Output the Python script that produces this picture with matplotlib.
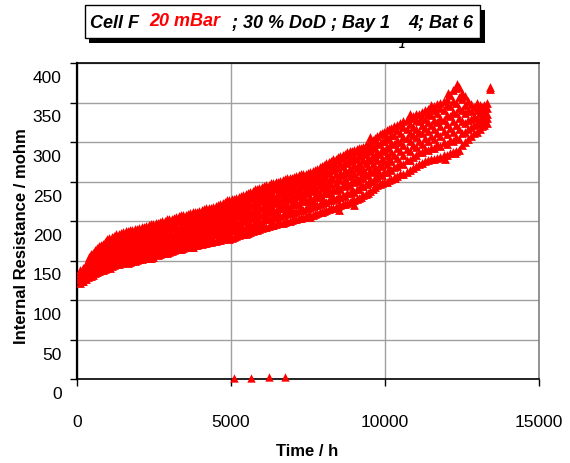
import matplotlib
matplotlib.use('Agg')
import matplotlib.pyplot as plt
import matplotlib.transforms as mtransforms
from matplotlib.patches import Rectangle

plt.rcParams['font.family'] = ['Liberation Sans', 'DejaVu Sans']

# measurement times (h) and the resistance readings (mohm) taken around each time
time_h = [100, 200, 300, 400, 520, 650, 780, 900, 1050, 1200, 1350, 1500, 1650, 1800,
          1950, 2100, 2250, 2400, 2550, 2700, 2850, 3000, 3150, 3300, 3450, 3600, 3750,
          3900, 4050, 4200, 4350, 4500, 4650, 4800, 4950, 5100, 5250, 5400, 5550, 5700,
          5850, 6000, 6150, 6300, 6450, 6600, 6750, 6900, 7050, 7200, 7350, 7500, 7650,
          7800, 7950, 8100, 8250, 8400, 8550, 8700, 8850, 9000, 9150, 9300, 9450, 9600,
          9750, 9900, 10050, 10200, 10400, 10600, 10800, 11000, 11200, 11400, 11600,
          11800, 12000, 12200, 12400, 12600, 12800, 13000, 13150, 13300, 13400]

res_mohm = [
    [122, 126, 131, 134, 138],
    [124, 129, 133, 137, 141],
    [127, 132, 136, 142, 146],
    [130, 135, 141, 146, 151, 155],
    [132, 138, 144, 149, 155, 160],
    [135, 141, 147, 152, 160, 166],
    [138, 143, 150, 157, 163, 170],
    [139, 146, 153, 158, 166, 174],
    [142, 148, 155, 163, 168, 175, 179],
    [144, 151, 157, 163, 171, 177, 181],
    [146, 152, 160, 166, 172, 180, 184],
    [148, 155, 161, 167, 175, 181, 186],
    [147, 154, 162, 170, 176, 183, 187],
    [150, 157, 163, 169, 177, 184, 189],
    [151, 158, 164, 172, 179, 185, 190],
    [152, 159, 167, 173, 180, 186, 192],
    [154, 160, 166, 174, 182, 188, 194],
    [153, 161, 169, 175, 181, 190, 196],
    [159, 163, 170, 178, 184, 191, 197],
    [158, 165, 172, 179, 187, 193, 199],
    [160, 167, 173, 181, 186, 194, 200],
    [161, 168, 176, 182, 189, 197, 203],
    [163, 170, 177, 183, 192, 198, 204],
    [164, 172, 178, 186, 191, 200, 206],
    [166, 173, 181, 187, 194, 201, 207],
    [168, 175, 182, 190, 197, 203, 209],
    [167, 176, 183, 189, 198, 205, 211],
    [170, 177, 185, 191, 199, 206, 212],
    [171, 178, 186, 193, 199, 207, 214],
    [172, 180, 187, 194, 202, 208, 216],
    [174, 181, 188, 196, 203, 210, 217],
    [175, 183, 190, 196, 204, 212, 219],
    [176, 183, 191, 199, 206, 213, 221],
    [178, 186, 192, 200, 208, 215, 224],
    [177, 185, 194, 201, 209, 218, 227],
    [180, 188, 196, 203, 212, 219, 228],
    [182, 190, 197, 206, 213, 222, 230],
    [183, 191, 200, 207, 216, 224, 233],
    [185, 194, 201, 210, 217, 226, 235],
    [187, 195, 204, 211, 220, 229, 238],
    [189, 198, 205, 214, 222, 231, 241],
    [191, 199, 208, 216, 225, 233, 243],
    [193, 202, 209, 218, 227, 236, 245],
    [195, 203, 212, 220, 229, 238, 248],
    [196, 205, 213, 223, 231, 240, 249],
    [198, 206, 216, 224, 234, 242, 251],
    [199, 209, 217, 227, 235, 245, 253],
    [200, 210, 218, 228, 237, 245, 254],
    [202, 211, 221, 229, 239, 247, 256],
    [204, 214, 222, 232, 240, 250, 258],
    [205, 214, 225, 233, 243, 251, 259],
    [207, 217, 225, 236, 244, 254, 261],
    [208, 219, 227, 238, 246, 255, 263],
    [210, 220, 230, 239, 249, 258, 266],
    [212, 223, 231, 242, 251, 262, 269],
    [214, 224, 235, 244, 255, 264, 273],
    [216, 227, 236, 247, 256, 267, 276],
    [218, 228, 239, 248, 259, 268, 279],
    [220, 231, 241, 252, 261, 273, 282],
    [222, 232, 244, 253, 265, 275, 285],
    [224, 236, 245, 257, 267, 279, 288],
    [227, 237, 249, 259, 271, 281, 290],
    [229, 241, 251, 263, 273, 285, 292],
    [233, 244, 255, 265, 277, 287, 294],
    [236, 248, 258, 269, 280, 290, 297],
    [240, 251, 262, 272, 284, 294, 302],
    [245, 256, 265, 277, 287, 299, 308],
    [248, 258, 269, 279, 291, 301, 312],
    [250, 262, 272, 284, 294, 306, 315],
    [253, 264, 276, 287, 299, 309, 318],
    [257, 269, 280, 293, 303, 315, 322],
    [260, 272, 283, 296, 306, 319, 326],
    [264, 277, 288, 301, 311, 323, 330],
    [270, 283, 294, 306, 316, 328, 335],
    [274, 287, 298, 311, 321, 332, 338],
    [277, 290, 301, 314, 325, 336, 342],
    [279, 293, 304, 317, 328, 340, 346],
    [281, 295, 307, 320, 331, 343, 350],
    [284, 298, 310, 323, 334, 347, 355],
    [287, 301, 313, 327, 338, 352, 366],
    [290, 304, 317, 331, 343, 357, 370],
    [300, 313, 324, 337, 347, 358],
    [308, 319, 329, 339, 348],
    [313, 323, 331, 341, 349],
    [320, 327, 333, 339, 344],
    [324, 331, 336, 343, 349],
    [367, 369],
]

# second group of readings, taken between the ones above
time_h_b = [150, 350, 460, 590, 715, 840, 975, 1125, 1275, 1425, 1575, 1725, 1875, 2025,
            2175, 2325, 2475, 2625, 2775, 2925, 3075, 3225, 3375, 3525, 3675, 3825, 3975,
            4125, 4275, 4425, 4575, 4725, 4875, 5025, 5175, 5325, 5475, 5625, 5775, 5925,
            6075, 6225, 6375, 6525, 6675, 6825, 6975, 7125, 7275, 7425, 7575, 7725, 7875,
            8025, 8175, 8325, 8475, 8625, 8775, 8925, 9075, 9225, 9375, 9525, 9675, 9825,
            9975, 10125, 10300, 10500, 10700, 10900, 11100, 11300, 11500, 11700, 11900,
            12100, 12300, 12500, 12700, 12900, 13075, 13225]

res_mohm_b = [
    [124, 129, 135],
    [129, 134, 139, 144, 149],
    [131, 137, 143, 148, 154, 158],
    [134, 140, 146, 151, 157, 163],
    [137, 142, 149, 155, 161, 168],
    [138, 145, 151, 157, 165, 171],
    [141, 147, 153, 160, 167, 173, 177],
    [143, 150, 156, 160, 170, 176, 180],
    [145, 151, 158, 165, 170, 178, 183],
    [147, 153, 160, 167, 173, 181, 185],
    [149, 156, 160, 168, 175, 182, 187],
    [148, 156, 164, 171, 178, 185, 188],
    [150, 157, 165, 171, 177, 186, 190],
    [152, 159, 166, 171, 180, 188, 191],
    [153, 160, 168, 176, 181, 189, 193],
    [153, 162, 169, 174, 183, 190, 195],
    [155, 163, 171, 176, 185, 192, 196],
    [157, 164, 171, 180, 185, 192, 198],
    [159, 166, 174, 180, 188, 195, 200],
    [160, 168, 174, 183, 190, 197, 202],
    [162, 169, 178, 184, 192, 198, 203],
    [164, 171, 179, 185, 194, 201, 205],
    [165, 173, 180, 188, 193, 202, 207],
    [167, 175, 183, 189, 197, 204, 208],
    [168, 176, 184, 192, 199, 205, 210],
    [169, 178, 185, 193, 200, 207, 212],
    [171, 179, 187, 194, 202, 209, 213],
    [172, 180, 188, 196, 203, 211, 215],
    [173, 182, 189, 198, 205, 212, 217],
    [175, 183, 191, 199, 207, 214, 218],
    [176, 185, 193, 200, 208, 216, 220],
    [177, 186, 194, 203, 210, 218, 223],
    [178, 187, 196, 204, 212, 220, 226],
    [179, 189, 197, 206, 214, 222, 228],
    [181, 190, 199, 208, 216, 225, 229],
    [183, 192, 201, 209, 218, 227, 232],
    [184, 193, 203, 211, 220, 229, 234],
    [186, 196, 205, 214, 222, 231, 237],
    [188, 197, 207, 215, 225, 234, 240],
    [190, 200, 209, 218, 227, 236, 242],
    [192, 202, 211, 220, 229, 238, 244],
    [194, 203, 213, 222, 232, 240, 246],
    [195, 205, 215, 225, 233, 243, 248],
    [197, 207, 217, 227, 236, 245, 250],
    [198, 208, 219, 229, 238, 248, 252],
    [200, 210, 220, 230, 240, 249, 254],
    [201, 212, 222, 232, 242, 251, 255],
    [203, 213, 224, 234, 244, 253, 257],
    [204, 215, 226, 236, 246, 255, 259],
    [206, 217, 227, 238, 248, 257, 260],
    [208, 218, 229, 240, 250, 259, 262],
    [209, 220, 232, 242, 252, 262, 265],
    [211, 222, 234, 245, 255, 265, 268],
    [213, 224, 236, 247, 258, 268, 271],
    [215, 227, 239, 250, 261, 271, 275],
    [217, 229, 241, 253, 264, 274, 278],
    [219, 231, 243, 255, 267, 277, 281],
    [221, 233, 246, 258, 270, 280, 284],
    [223, 236, 249, 261, 273, 283, 287],
    [226, 238, 251, 264, 276, 286, 289],
    [228, 241, 254, 267, 279, 289, 291],
    [231, 244, 257, 270, 282, 291, 293],
    [234, 247, 260, 273, 285, 293, 296],
    [238, 251, 264, 277, 289, 299],
    [243, 255, 268, 281, 293, 305],
    [247, 259, 272, 285, 297, 310],
    [249, 262, 276, 289, 301, 313],
    [252, 266, 280, 292, 304, 317],
    [255, 268, 283, 297, 309, 320],
    [259, 274, 288, 300, 312, 324],
    [262, 277, 291, 305, 316, 328],
    [267, 281, 296, 309, 319, 333],
    [272, 287, 301, 313, 326, 336],
    [276, 291, 305, 318, 329, 340],
    [278, 293, 308, 322, 334, 344],
    [280, 297, 311, 325, 337, 348],
    [283, 300, 314, 328, 341, 352],
    [286, 303, 318, 333, 345, 360],
    [289, 306, 322, 337, 350, 368],
    [296, 311, 326, 340, 354, 362],
    [304, 316, 328, 340, 352],
    [311, 321, 333, 344],
    [316, 326, 337, 347],
    [322, 330, 339, 347],
]

# scattered readings along the edges of the band
edge_time_h = [1070, 2600, 3734, 7570, 8500, 9000, 9500, 10330, 10800, 11500,
               11950, 12050, 12270, 12350]
edge_res_mohm = [140, 158, 167, 205, 214, 220, 306, 254, 336, 347, 279, 362, 286, 373]

# stray near-zero readings
stray_time_h = [5100, 5650, 6230, 6750]
stray_res_mohm = [1, 1, 3, 2]

xs, ys = list(edge_time_h), list(edge_res_mohm)
for times, rows in ((time_h, res_mohm), (time_h_b, res_mohm_b)):
    for t, vals in zip(times, rows):
        for v in vals:
            xs.append(t)
            ys.append(v)

W, H = 570, 463
fig = plt.figure(figsize=(W / 100, H / 100), dpi=100)
ax = fig.add_axes([77 / W, 1 - 379 / H, (539 - 77) / W, (379 - 63) / H])

ax.scatter(xs, ys, marker='^', s=40, color='#ff0000', linewidths=0, zorder=3)
ax.scatter(stray_time_h, stray_res_mohm, marker='^', s=36, color='#ff0000',
           linewidths=0, zorder=3, clip_on=False)

ax.set_xlim(0, 15000)
ax.set_ylim(0, 400)
ax.set_xticks([0, 5000, 10000, 15000])
ax.set_yticks(range(0, 401, 50))
ax.tick_params(axis='both', direction='out', length=5, width=1, labelsize=12.5)
ax.tick_params(axis='x', pad=21)
ax.tick_params(axis='y', pad=6)

# y tick labels sit a little below their ticks in the original
offset = mtransforms.ScaledTranslation(0, -14 / 100, fig.dpi_scale_trans)
for lab in ax.get_yticklabels():
    lab.set_transform(lab.get_transform() + offset)

ax.grid(True, color='#a0a0a0', linewidth=1)
ax.set_axisbelow(True)
ax.spines['left'].set_linewidth(1.6)
ax.spines['bottom'].set_linewidth(1.2)
ax.spines['top'].set_linewidth(1.2)
ax.spines['right'].set_color('#808080')
ax.spines['right'].set_linewidth(1.2)


def px(x, y):
    return x / W, 1 - y / H


fig.text(*px(307, 452), 'Time / h', ha='center', va='center', fontsize=12, fontweight='bold')
fig.text(*px(22, 236), 'Internal Resistance / mohm', ha='center', va='center',
         rotation=90, fontsize=12, fontweight='bold')

# title box with shadow
fig.patches.append(Rectangle(px(89, 43), (485 - 89) / W, (43 - 10) / H,
                             transform=fig.transFigure, facecolor='black',
                             edgecolor='none', zorder=1))
fig.patches.append(Rectangle(px(85, 38), (480 - 85) / W, (38 - 5) / H,
                             transform=fig.transFigure, facecolor='white',
                             edgecolor='black', linewidth=1, zorder=2))

tkw = dict(fontsize=13, fontweight='bold', fontstyle='italic', va='baseline', zorder=3)
fig.text(*px(90, 28), 'Cell F', color='black', **tkw)
fig.text(*px(149, 26), '20 mBar', color='#ff0000', **tkw)
fig.text(*px(232, 28), '; 30 % DoD ; Bay 1', color='black', **tkw)
fig.text(*px(399, 48), '1', color='black', fontsize=8, fontweight='bold',
         fontstyle='italic', va='baseline', zorder=3)
fig.text(*px(408, 28), '4; Bat 6', color='black', **tkw)

fig.savefig('out.png', dpi=100)
